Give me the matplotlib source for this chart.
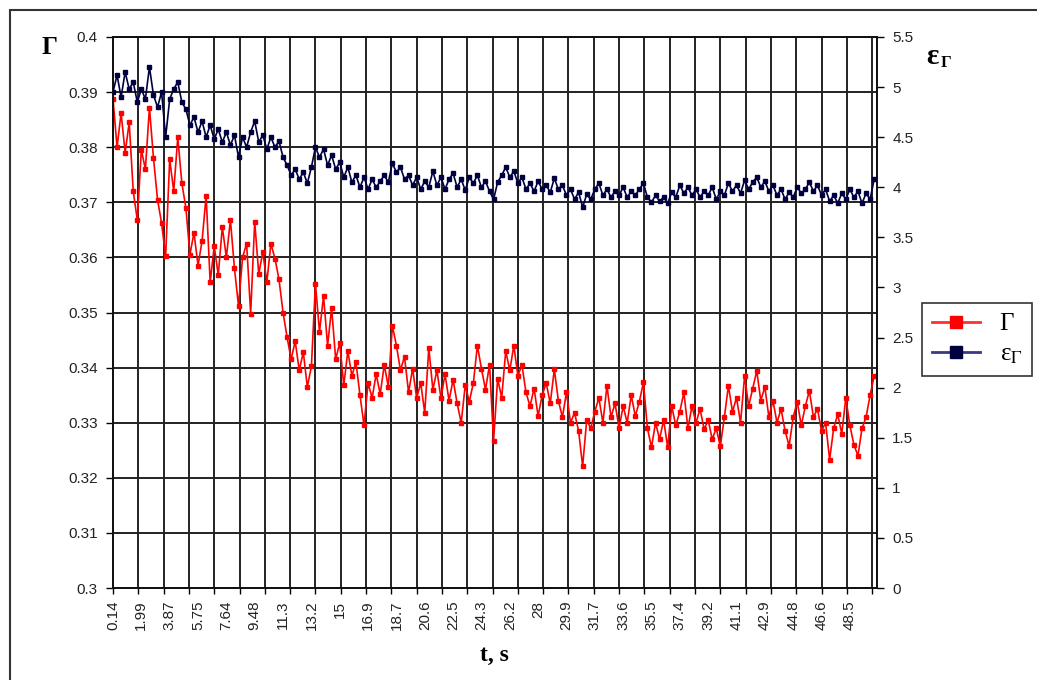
"""
Gamma and eps_Gamma vs time, Excel-style chart
"""
import numpy as np
import matplotlib.pyplot as plt
from matplotlib.ticker import MultipleLocator, FixedLocator, FixedFormatter
from matplotlib.lines import Line2D
from matplotlib.patches import Rectangle

plt.rcParams['mathtext.fontset'] = 'stix'

### Data (every 4th sample of the recording)

t_labels = ['0.14', '1.99', '3.87', '5.75', '7.64', '9.48', '11.3', '13.2', '15',
            '16.9', '18.7', '20.6', '22.5', '24.3', '26.2', '28', '29.9', '31.7',
            '33.6', '35.5', '37.4', '39.2', '41.1', '42.9', '44.8', '46.6', '48.5']

gamma = [0.3888, 0.3800, 0.3862, 0.3790, 0.3845, 0.3720, 0.3668, 0.3795, 0.3760, 0.3872,
         0.3780, 0.3705, 0.3662, 0.3602, 0.3778, 0.3720, 0.3818, 0.3735, 0.3690, 0.3605,
         0.3645, 0.3585, 0.3630, 0.3712, 0.3555, 0.3620, 0.3568, 0.3655, 0.3600, 0.3668,
         0.3580, 0.3512, 0.3600, 0.3625, 0.3498, 0.3665, 0.3570, 0.3610, 0.3555, 0.3625,
         0.3598, 0.3560, 0.3500, 0.3455, 0.3415, 0.3448, 0.3395, 0.3428, 0.3365, 0.3402,
         0.3552, 0.3465, 0.3530, 0.3440, 0.3508, 0.3415, 0.3445, 0.3368, 0.3430, 0.3385,
         0.3410, 0.3350, 0.3295, 0.3372, 0.3345, 0.3388, 0.3352, 0.3405, 0.3365, 0.3476,
         0.3440, 0.3395, 0.3420, 0.3355, 0.3398, 0.3345, 0.3372, 0.3318, 0.3436, 0.3360,
         0.3395, 0.3345, 0.3388, 0.3340, 0.3378, 0.3335, 0.3300, 0.3368, 0.3338, 0.3372,
         0.3440, 0.3398, 0.3360, 0.3405, 0.3267, 0.3380, 0.3345, 0.3430, 0.3395, 0.3440,
         0.3385, 0.3405, 0.3355, 0.3330, 0.3362, 0.3312, 0.3350, 0.3372, 0.3335, 0.3397,
         0.3340, 0.3310, 0.3355, 0.3300, 0.3318, 0.3285, 0.3221, 0.3305, 0.3290, 0.3320,
         0.3345, 0.3300, 0.3367, 0.3310, 0.3335, 0.3290, 0.3330, 0.3300, 0.3350, 0.3312,
         0.3338, 0.3373, 0.3290, 0.3255, 0.3300, 0.3270, 0.3305, 0.3255, 0.3330, 0.3295,
         0.3320, 0.3355, 0.3290, 0.3330, 0.3300, 0.3325, 0.3288, 0.3305, 0.3270, 0.3290,
         0.3257, 0.3310, 0.3367, 0.3320, 0.3345, 0.3300, 0.3385, 0.3330, 0.3362, 0.3394,
         0.3340, 0.3365, 0.3310, 0.3340, 0.3300, 0.3325, 0.3285, 0.3258, 0.3310, 0.3338,
         0.3295, 0.3330, 0.3358, 0.3310, 0.3325, 0.3285, 0.3300, 0.3233, 0.3290, 0.3315,
         0.3280, 0.3345, 0.3295, 0.3260, 0.3240, 0.3290, 0.3310, 0.3350, 0.3385]

eps = [4.95, 5.12, 4.90, 5.15, 4.98, 5.05, 4.85, 4.98, 4.88, 5.20,
       4.92, 4.80, 4.95, 4.50, 4.88, 4.98, 5.05, 4.85, 4.78, 4.62,
       4.70, 4.55, 4.66, 4.50, 4.62, 4.48, 4.58, 4.45, 4.55, 4.42,
       4.52, 4.30, 4.50, 4.40, 4.55, 4.66, 4.45, 4.52, 4.38, 4.50,
       4.40, 4.46, 4.30, 4.22, 4.12, 4.18, 4.08, 4.15, 4.04, 4.20,
       4.40, 4.30, 4.38, 4.22, 4.32, 4.18, 4.25, 4.10, 4.20, 4.05,
       4.12, 4.00, 4.10, 3.98, 4.08, 4.00, 4.06, 4.12, 4.05, 4.24,
       4.15, 4.20, 4.08, 4.12, 4.02, 4.10, 3.98, 4.06, 4.00, 4.16,
       4.02, 4.10, 3.98, 4.08, 4.14, 4.00, 4.08, 3.97, 4.10, 4.04,
       4.12, 4.00, 4.06, 3.96, 3.88, 4.05, 4.12, 4.20, 4.10, 4.16,
       4.04, 4.10, 3.98, 4.04, 3.96, 4.06, 3.98, 4.02, 3.95, 4.09,
       3.98, 4.02, 3.92, 3.98, 3.88, 3.95, 3.80, 3.93, 3.88, 3.98,
       4.04, 3.92, 3.98, 3.90, 3.96, 3.92, 4.00, 3.90, 3.96, 3.92,
       3.98, 4.04, 3.90, 3.85, 3.92, 3.86, 3.90, 3.84, 3.95, 3.90,
       4.02, 3.94, 4.00, 3.92, 3.98, 3.90, 3.96, 3.92, 4.00, 3.88,
       3.96, 3.92, 4.04, 3.96, 4.02, 3.94, 4.07, 3.98, 4.05, 4.10,
       4.00, 4.06, 3.96, 4.02, 3.92, 3.98, 3.88, 3.95, 3.90, 4.00,
       3.94, 3.98, 4.05, 3.96, 4.02, 3.92, 3.98, 3.86, 3.92, 3.84,
       3.94, 3.88, 3.98, 3.90, 3.96, 3.84, 3.94, 3.88, 4.08]

### category axis like Excel: gridline every 25 samples, label every 28 samples
step = 4                 # samples per stored point
grid_every = 25 / step
label_every = 28 / step

red = '#ff0000'
navy = '#000040'
tick_font = dict(family='Liberation Sans', size=11, color='#222222')

fig = plt.figure(figsize=(10.37, 6.8), dpi=100)
ax = fig.add_axes([113 / 1037, 92 / 680, 764 / 1037, 551 / 680])
ax2 = ax.twinx()

ax.plot(gamma, color=red, lw=1.2, marker='s', ms=3, mec=red, mfc=red, zorder=3)
ax2.plot(eps, color=navy, lw=1.2, marker='s', ms=3, mec=navy, mfc=navy, zorder=3)

ax.set_xlim(0, 188.7)
ax.set_ylim(0.3, 0.4)
ax2.set_ylim(0, 5.5)

# gridlines on the major ticks, time labels on the minor ones
ax.xaxis.set_major_locator(MultipleLocator(grid_every))
ax.xaxis.set_major_formatter(FixedFormatter([]))
ax.xaxis.set_minor_locator(FixedLocator([k * label_every for k in range(len(t_labels))]))
ax.xaxis.set_minor_formatter(FixedFormatter(t_labels))
ax.xaxis.remove_overlapping_locs = False
ax.tick_params(axis='x', which='major', direction='out', length=4, width=1, labelbottom=False)
ax.tick_params(axis='x', which='minor', length=0, pad=9, labelrotation=90)
for lab in ax.xaxis.get_minorticklabels():
    lab.set_fontfamily('Liberation Sans')
    lab.set_fontsize(11)
    lab.set_color('#222222')

ax.set_yticks(np.arange(0.3, 0.4001, 0.01))
ax.set_yticklabels(['%g' % round(v, 2) for v in np.arange(0.3, 0.4001, 0.01)], **tick_font)
ax.tick_params(axis='y', direction='out', length=5, width=1, pad=6)

ax2.set_yticks(np.arange(0, 5.501, 0.5))
ax2.set_yticklabels(['%g' % v for v in np.arange(0, 5.501, 0.5)], **tick_font)
ax2.tick_params(axis='y', direction='out', length=5, width=1, pad=6)

ax.grid(True, which='major', color='#222222', lw=1.4)
ax.set_axisbelow(True)
for a in (ax, ax2):
    for s in a.spines.values():
        s.set_color('#111111')
        s.set_linewidth(1.3)

# axis titles
fig.text(42 / 1037, 1 - 47 / 680, 'Γ', family='Liberation Serif', weight='bold',
         size=18, va='center', ha='left')
fig.text(926 / 1037, 1 - 56 / 680, 'ε', family='Liberation Serif', weight='bold',
         size=21, va='center', ha='left')
fig.text(941 / 1037, 1 - 63 / 680, 'Γ', family='Liberation Serif', weight='bold',
         size=12, va='center', ha='left')
fig.text(494 / 1037, 1 - 655 / 680, 't, s', family='Liberation Serif', weight='bold',
         size=17, va='center', ha='center')

# legend
handles = [Line2D([], [], color='#ff3030', lw=2, marker='s', ms=8, mfc=red, mec=red),
           Line2D([], [], color='#3a3a80', lw=2, marker='s', ms=8, mfc=navy, mec=navy)]
leg = fig.legend(handles, ['Γ', 'ε$_{\\Gamma}$'], loc='upper left',
                 bbox_to_anchor=(922 / 1037, 1 - 303 / 680),
                 prop=dict(family='Liberation Serif', size=18),
                 frameon=True, fancybox=False, handlelength=1.9, handletextpad=0.8,
                 labelspacing=0.3, borderpad=0.4, borderaxespad=0)
leg.get_frame().set_edgecolor('black')
leg.get_frame().set_linewidth(1.2)

# outer chart border
fig.patches.append(Rectangle((10 / 1037, -0.2), 1.2, 1.2 - 10 / 680,
                             transform=fig.transFigure, fill=False,
                             edgecolor='#333333', lw=1.5))

fig.savefig('out.png', dpi=100)
